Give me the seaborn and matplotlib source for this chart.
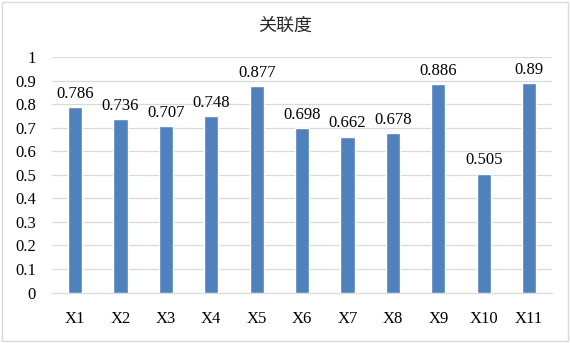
import pandas as pd
import seaborn as sns
import matplotlib.pyplot as plt
from matplotlib.patches import Rectangle

categories = ['X1', 'X2', 'X3', 'X4', 'X5', 'X6', 'X7', 'X8', 'X9', 'X10', 'X11']
values = [0.786, 0.736, 0.707, 0.748, 0.877, 0.698, 0.662, 0.678, 0.886, 0.505, 0.89]
labels = ['0.786', '0.736', '0.707', '0.748', '0.877', '0.698', '0.662', '0.678', '0.886', '0.505', '0.89']
yticks = [0, 0.1, 0.2, 0.3, 0.4, 0.5, 0.6, 0.7, 0.8, 0.9, 1]
ytick_labels = ['0', '0.1', '0.2', '0.3', '0.4', '0.5', '0.6', '0.7', '0.8', '0.9', '1']

df = pd.DataFrame({'cat': categories, 'val': values})

sns.set_style('white')
plt.rcParams['font.family'] = ['Liberation Serif', 'Noto Sans CJK SC']

fig = plt.figure(figsize=(5.7, 3.43), dpi=100)
ax = fig.add_axes([0.092, 0.147, 0.876, 0.687])

sns.barplot(data=df, x='cat', y='val', color='#4F81BD', saturation=1, width=0.31, ax=ax)

for i, (v, t) in enumerate(zip(values, labels)):
    ax.text(i, v + 0.022, t, ha='center', va='bottom', fontsize=12, color='black')

ax.set_ylim(0, 1)
ax.set_xlim(-0.5, len(categories) - 0.5)
ax.set_yticks(yticks)
ax.set_yticklabels(ytick_labels)
ax.yaxis.grid(True, color='#D9D9D9', linewidth=0.9)
ax.set_axisbelow(True)
for s in ['top', 'right', 'left']:
    ax.spines[s].set_visible(False)
ax.spines['bottom'].set_color('#D9D9D9')
ax.tick_params(axis='both', length=0, labelsize=12, colors='black')
ax.tick_params(axis='x', pad=13)
ax.tick_params(axis='y', pad=12)
ax.set_xlabel('')
ax.set_ylabel('')

fig.text(0.5, 0.926, '关联度', ha='center', va='center', fontsize=13,
         family=['Noto Sans CJK SC', 'DejaVu Sans'])

fig.patches.append(Rectangle((0.004, 0.006), 0.992, 0.988, transform=fig.transFigure,
                             fill=False, edgecolor='#D9D9D9', linewidth=1))

fig.savefig('out.png', dpi=100)
